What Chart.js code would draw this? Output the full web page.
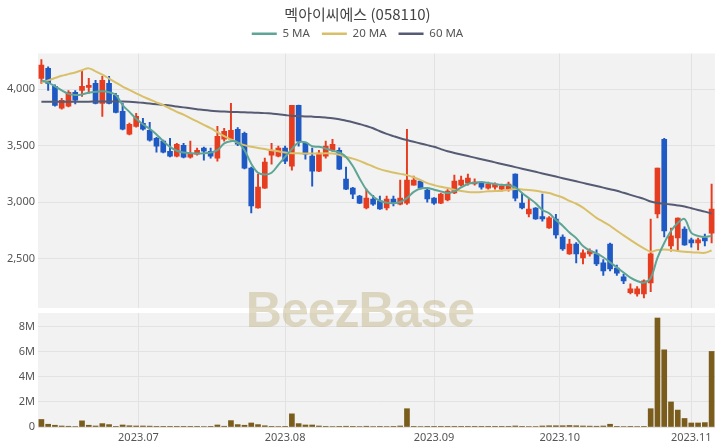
<!DOCTYPE html>
<html>
<head>
<meta charset="utf-8">
<script src="https://cdn.jsdelivr.net/npm/chart.js@4.4.0/dist/chart.umd.min.js"></script>
<style>
    html, body { margin: 0; padding: 0; background: #fff; }
    #wrap { position: relative; width: 720px; height: 448px; overflow: hidden; }
    #priceBox { position: absolute; left: 0; top: 0; width: 720px; height: 310px; }
    #volBox { position: absolute; left: 0; top: 310px; width: 720px; height: 138px; }
    #mark {
        position: absolute; left: 0; top: 285px; width: 720px; text-align: center;
        font: bold 50px 'Liberation Sans', Arial, sans-serif; line-height: 50px; letter-spacing: -1px;
        color: rgba(196, 184, 140, 0.5); pointer-events: none;
    }
</style>
</head>
<body>
<div id="wrap">
    <div id="priceBox"><canvas id="priceChart"></canvas></div>
    <div id="volBox"><canvas id="volChart"></canvas></div>
    <div id="mark">BeezBase</div>
</div>
<script>
// Dados
const dates = [
    '2023-06-12','2023-06-13','2023-06-14','2023-06-15','2023-06-16','2023-06-19','2023-06-20','2023-06-21','2023-06-22','2023-06-23',
    '2023-06-26','2023-06-27','2023-06-28','2023-06-29','2023-06-30',
    '2023-07-03','2023-07-04','2023-07-05','2023-07-06','2023-07-07','2023-07-10','2023-07-11','2023-07-12','2023-07-13','2023-07-14',
    '2023-07-17','2023-07-18','2023-07-19','2023-07-20','2023-07-21','2023-07-24','2023-07-25','2023-07-26','2023-07-27','2023-07-28','2023-07-31',
    '2023-08-01','2023-08-02','2023-08-03','2023-08-04','2023-08-07','2023-08-08','2023-08-09','2023-08-10','2023-08-11','2023-08-14',
    '2023-08-16','2023-08-17','2023-08-18','2023-08-21','2023-08-22','2023-08-23','2023-08-24','2023-08-25','2023-08-28','2023-08-29','2023-08-30','2023-08-31',
    '2023-09-01','2023-09-04','2023-09-05','2023-09-06','2023-09-07','2023-09-08','2023-09-11','2023-09-12','2023-09-13','2023-09-14','2023-09-15',
    '2023-09-18','2023-09-19','2023-09-20','2023-09-21','2023-09-22','2023-09-25','2023-09-26','2023-09-27',
    '2023-10-04','2023-10-05','2023-10-06','2023-10-10','2023-10-11','2023-10-12','2023-10-13','2023-10-16','2023-10-17','2023-10-18','2023-10-19','2023-10-20',
    '2023-10-23','2023-10-24','2023-10-25','2023-10-26','2023-10-27','2023-10-30','2023-10-31',
    '2023-11-01','2023-11-02','2023-11-03','2023-11-06'
];
const opens = [
    4097,4186,4027,3832,3850,3973,3991,4018,4053,3876, 4053,3947,3805,3602,3672,3699,3637,3566,3540,3451,
    3407,3504,3398,3425,3478,3451,3389,3557,3557,3646, 3610,3301,2947,3124,3416,3407,3478,3319,3858,3522,
    3407,3274,3407,3460,3460,3203,3124,3053,2947,3027, 3010,2947,3027,2982,2991,3150,3186,3106,3035,2991,
    3018,3080,3150,3168,3160,3168,3124,3133,3115,3115, 3248,2991,2894,2947,2870,2770,2850,2690,2540,2628,
    2505,2540,2540,2460,2628,2415,2336,2195,2185,2185, 2283,2894,3557,2610,2682,2760,2665,2637,2682,2725
];
const highs = [
    4265,4200,4040,3920,3990,3990,4160,4097,4080,4115, 4115,3965,3876,3700,3788,3743,3708,3575,3550,3566,
    3520,3522,3540,3478,3487,3478,3672,3655,3876,3660, 3620,3310,3248,3390,3522,3496,3496,3858,3860,3530,
    3478,3460,3540,3557,3480,3310,3130,3060,3115,3060, 3053,3053,3053,3195,3645,3230,3195,3115,3040,3080,
    3110,3239,3230,3248,3205,3177,3177,3170,3160,3177, 3250,3080,3027,2950,3071,2870,2890,2710,2670,2640,
    2575,2584,2575,2490,2635,2440,2360,2275,2250,2310, 2850,3301,3566,2770,2860,2780,2680,2680,2715,3160
];
const lows = [
    4053,3990,3850,3825,3845,3870,3938,3965,3870,3760, 3870,3790,3640,3595,3665,3637,3540,3442,3435,3400,
    3400,3392,3390,3416,3372,3390,3363,3540,3550,3500, 3295,2903,2945,3120,3336,3400,3340,3283,3496,3380,
    3142,3270,3390,3450,3288,3110,3030,2985,2940,2970, 2935,2930,2965,2975,2980,3150,3115,3000,2980,2985,
    3010,3075,3140,3150,3150,3115,3115,3115,3097,3097, 3010,2940,2867,2845,2830,2765,2680,2570,2535,2460,
    2450,2520,2435,2350,2390,2350,2275,2185,2165,2150, 2205,2860,2690,2565,2565,2615,2600,2575,2610,2637
];
const closes = [
    4215,4053,3858,3903,3973,3903,4027,4035,3876,4080, 3876,3796,3646,3690,3761,3646,3549,3496,3442,3407,
    3513,3398,3433,3460,3451,3407,3584,3628,3637,3513, 3301,2965,3133,3354,3460,3478,3363,3858,3540,3425,
    3274,3434,3496,3513,3292,3115,3071,2991,3035,2982, 2940,3027,2991,3035,3195,3195,3124,3027,2991,3071,
    3097,3186,3195,3212,3177,3133,3160,3160,3142,3160, 3035,2947,2938,2850,2850,2860,2708,2584,2628,2540,
    2550,2567,2450,2390,2406,2370,2300,2230,2230,2300, 2540,3301,2743,2700,2858,2620,2637,2665,2655,2938
];
const volumes = [
    600000,220000,140000,80000,60000,40000,490000,140000,80000,270000, 190000,50000,160000,100000,80000,80000,70000,50000,30000,30000,
    30000,30000,30000,30000,40000,30000,160000,60000,510000,190000, 140000,320000,190000,100000,50000,40000,50000,1050000,270000,160000,
    160000,80000,50000,40000,50000,60000,50000,40000,60000,40000, 30000,40000,30000,80000,1460000,50000,40000,30000,30000,30000,
    30000,30000,30000,30000,30000,30000,30000,30000,30000,30000, 80000,50000,40000,40000,80000,100000,100000,100000,120000,100000,
    80000,70000,60000,80000,220000,50000,40000,30000,40000,50000, 1460000,8700000,6160000,2000000,1350000,680000,320000,320000,350000,6030000
];
const ma5 = [
    4080,4060,4027,3990,3960,3950,3955,3970,3978,3982, 3975,3950,3860,3800,3740,3690,3650,3600,3540,3490,
    3455,3440,3434,3430,3432,3440,3460,3520,3540,3530, 3460,3340,3260,3245,3260,3330,3400,3470,3530,3530,
    3495,3490,3475,3455,3440,3400,3320,3210,3110,3050, 3010,2995,2990,3000,3035,3090,3120,3124,3110,3095,
    3080,3095,3130,3160,3172,3177,3170,3160,3152,3150, 3130,3080,3035,2990,2930,2900,2840,2790,2730,2680,
    2610,2570,2545,2510,2465,2420,2375,2330,2300,2285, 2327,2505,2637,2743,2814,2850,2726,2700,2690,2700
];
const ma20 = [
    4060,4080,4100,4120,4135,4150,4170,4186,4160,4130, 4095,4060,4025,3995,3965,3935,3910,3885,3860,3830,
    3800,3775,3745,3715,3685,3655,3620,3585,3555,3525, 3505,3490,3480,3470,3460,3450,3440,3434,3432,3430,
    3430,3430,3432,3430,3420,3400,3385,3365,3340,3315, 3292,3275,3262,3250,3239,3220,3195,3168,3150,3135,
    3124,3110,3098,3090,3088,3090,3095,3097,3100,3108, 3115,3112,3106,3100,3090,3080,3060,3040,3010,2985,
    2950,2905,2860,2825,2790,2745,2705,2665,2625,2590, 2560,2575,2578,2575,2565,2558,2555,2552,2550,2570
];
const ma60 = [
    3890,3890,3890,3890,3890,3890,3890,3891,3892,3893, 3893,3893,3892,3890,3886,3880,3874,3868,3862,3856,
    3848,3840,3832,3824,3816,3810,3806,3803,3800,3798, 3796,3794,3792,3789,3785,3780,3772,3764,3762,3760,
    3758,3755,3750,3744,3735,3722,3708,3692,3675,3655, 3628,3605,3585,3566,3550,3535,3520,3505,3490,3470,
    3451,3436,3422,3408,3394,3380,3366,3352,3338,3324, 3310,3296,3282,3268,3254,3240,3226,3212,3198,3184,
    3170,3156,3142,3128,3114,3100,3082,3064,3046,3028, 3005,2992,2985,2978,2970,2960,2945,2930,2915,2898
];
const priceTicks = [2500, 3000, 3500, 4000];
const volumeTicks = [0, 2000000, 4000000, 6000000, 8000000];
const tickMonths = ['2023-07', '2023-08', '2023-09', '2023-10', '2023-11'];

const UP = '#e63c1f';
const DOWN = '#1f59c4';
const GRID = '#e2e2e2';
const AXIS_FONT = { family: "'Noto Sans', 'Noto Sans CJK KR', sans-serif", size: 11 };

// posição dos meses num eixo de pregões (interpola quando o dia 1 não é pregão)
function monthTicks() {
    const t = dates.map(d => Date.parse(d + 'T00:00:00Z'));
    const out = [];
    tickMonths.forEach(m => {
        const ms = Date.parse(m + '-01T00:00:00Z');
        const j = t.findIndex(v => v >= ms);
        if (j < 0) return;
        const value = (t[j] === ms || j === 0) ? j : j - 1 + (ms - t[j - 1]) / (t[j] - t[j - 1]);
        out.push({ value: value, label: m.replace('-', '.') });
    });
    return out;
}
const mTicks = monthTicks();

const candleColors = closes.map((c, i) => c >= opens[i] ? UP : DOWN);

const panelBg = {
    id: 'panelBg',
    beforeDraw(chart) {
        const { ctx, chartArea: a } = chart;
        ctx.save();
        ctx.fillStyle = '#f2f2f2';
        ctx.fillRect(a.left, a.top, a.right - a.left, a.bottom - a.top);
        ctx.restore();
    }
};

function xScale(showLabels) {
    return {
        type: 'linear',
        offset: false,
        min: -0.5,
        max: dates.length - 0.5,
        afterBuildTicks: s => { s.ticks = mTicks.map(t => ({ value: t.value })); },
        afterFit: s => { s.height = showLabels ? 21 : 0; s.paddingLeft = 0; s.paddingRight = 0; },
        border: { display: false },
        grid: { color: GRID, drawTicks: false, offset: false },
        ticks: {
            display: showLabels,
            autoSkip: false,
            maxRotation: 0,
            padding: 4,
            color: '#555',
            font: AXIS_FONT,
            callback: (v, i) => mTicks[i] ? mTicks[i].label : ''
        }
    };
}

function yScale(min, max, tickList, fmt) {
    return {
        min: min,
        max: max,
        afterBuildTicks: s => { s.ticks = tickList.map(v => ({ value: v })); },
        afterFit: s => { s.width = 38; s.paddingTop = 0; s.paddingBottom = 0; },
        border: { display: false },
        grid: { color: GRID, drawTicks: false },
        ticks: { color: '#555', font: AXIS_FONT, padding: 3, callback: fmt }
    };
}

const priceCtx = document.getElementById('priceChart').getContext('2d');
new Chart(priceCtx, {
    type: 'bar',
    data: {
        datasets: [
            { type: 'line', label: '5 MA', data: ma5.map((v, i) => ({ x: i, y: v })), borderColor: '#5ea596', backgroundColor: '#5ea596', borderWidth: 2, pointRadius: 0, tension: 0.35, order: 0 },
            { type: 'line', label: '20 MA', data: ma20.map((v, i) => ({ x: i, y: v })), borderColor: '#d9c068', backgroundColor: '#d9c068', borderWidth: 2, pointRadius: 0, tension: 0.35, order: 0 },
            { type: 'line', label: '60 MA', data: ma60.map((v, i) => ({ x: i, y: v })), borderColor: '#555b72', backgroundColor: '#555b72', borderWidth: 2, pointRadius: 0, tension: 0.35, order: 0 },
            { label: 'wick', data: lows.map((v, i) => ({ x: i, y: [v, highs[i]] })), backgroundColor: candleColors, barThickness: 1.3, grouped: false, order: 2 },
            { label: 'body', data: opens.map((v, i) => ({ x: i, y: [v, closes[i]] })), backgroundColor: candleColors, barThickness: 5, minBarLength: 1.5, grouped: false, order: 1 }
        ]
    },
    options: {
        responsive: true,
        maintainAspectRatio: false,
        animation: false,
        layout: { padding: { left: 0, right: 5, top: 4, bottom: 2 } },
        plugins: {
            title: {
                display: true,
                text: '멕아이씨에스 (058110)',
                color: '#444',
                font: { family: "'Noto Sans CJK KR', sans-serif", size: 15, weight: 'normal' },
                padding: { top: 1, bottom: -7 }
            },
            legend: {
                display: true,
                labels: {
                    color: '#555',
                    font: { family: "'Noto Sans', sans-serif", size: 11.5 },
                    boxWidth: 25,
                    boxHeight: 2.5,
                    padding: 12,
                    generateLabels: chart => Chart.defaults.plugins.legend.labels.generateLabels(chart)
                        .filter(l => l.datasetIndex < 3)
                        .map(l => Object.assign(l, { fillStyle: l.strokeStyle, lineWidth: 0 }))
                }
            },
            tooltip: { enabled: false }
        },
        scales: {
            x: xScale(false),
            // eixo vazio só para afastar o painel da legenda
            xTop: {
                type: 'linear',
                position: 'top',
                afterFit: s => { s.height = 4; s.paddingLeft = 0; s.paddingRight = 0; },
                border: { display: false },
                grid: { display: false },
                ticks: { display: false }
            },
            y: yScale(2060, 4318, priceTicks, v => v.toLocaleString('en-US'))
        }
    },
    plugins: [panelBg]
});

const volCtx = document.getElementById('volChart').getContext('2d');
new Chart(volCtx, {
    type: 'bar',
    data: {
        datasets: [
            { label: 'Volume', data: volumes.map((v, i) => ({ x: i, y: v })), backgroundColor: '#7a5c1c', barThickness: 5 }
        ]
    },
    options: {
        responsive: true,
        maintainAspectRatio: false,
        animation: false,
        layout: { padding: { left: 0, right: 5, top: 3, bottom: 0 } },
        plugins: { legend: { display: false }, tooltip: { enabled: false } },
        scales: {
            x: xScale(true),
            y: yScale(0, 9100000, volumeTicks, v => v === 0 ? '0' : (v / 1000000) + 'M')
        }
    },
    plugins: [panelBg]
});
</script>
</body>
</html>
